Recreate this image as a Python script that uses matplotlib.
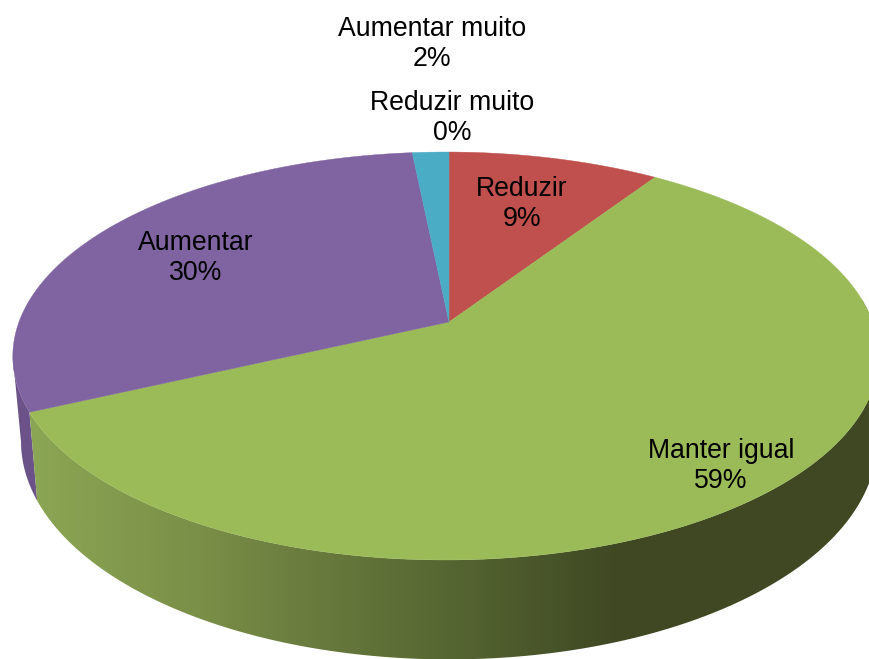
#plot.py
#3D looking pie chart, drawn in pixel coordinates of the picture
import numpy as np
import matplotlib
matplotlib.use('Agg')
import matplotlib.pyplot as plt
from matplotlib.patches import Polygon
from matplotlib.colors import LinearSegmentedColormap

plt.rcParams['font.family'] = ['Liberation Sans', 'DejaVu Sans']

#Data, clockwise from the top
categories = ['Reduzir muito', 'Reduzir', 'Manter igual', 'Aumentar', 'Aumentar muito']
values = [0.0, 9.3, 58.8, 30.3, 1.6]
top_colors = ['#4f81bd', '#c0504d', '#9bbb59', '#8064a2', '#4bacc6']

#Where each label goes (centre of the text block)
label_x = [452, 522, 721, 196, 432]
label_y = [118, 204, 466.5, 258.5, 44.5]

#Perspective of the disc: apex, half width, half depth, left/right squeeze
c = 1 / 6
top_disc = (449, 322, 426.8, 198.3, 0.0075)
bottom_disc = (449, 405, 422, 212, 0.0)
left_turn = 72.3   #percent position of the leftmost point of the disc

def disc_points(disc, t0, t1, n=200):
    #angles in percent of the pie, clockwise from the top
    cx, cy, a, b, g = disc
    t = np.radians(np.linspace(t0, t1, n) * 3.6)
    d = 1 + c * np.cos(t) + g * np.sin(t)
    return np.column_stack((cx + a * np.sin(t) / d, cy - b * np.cos(t) / d))

fig = plt.figure(figsize=(8.69, 6.59), dpi=100)
ax = fig.add_axes([0, 0, 1, 1])

edges = np.concatenate(([0], np.cumsum(values)))
start_manter = edges[2]
end_manter = edges[3]

#Side of the purple slice, only a sliver shows on the left
side = np.vstack((disc_points(top_disc, end_manter, left_turn),
                  disc_points(bottom_disc, left_turn, end_manter)))
ax.add_patch(Polygon(side, closed=True, fc='#6b5288', ec='none'))

#Side of the green slice with its gradient
side = np.vstack((disc_points(top_disc, start_manter + 5, end_manter),
                  disc_points(bottom_disc, end_manter, start_manter + 5)))
side_patch = Polygon(side, closed=True, fc='none', ec='none')
ax.add_patch(side_patch)
stops = [(0.0, '#8ba654'), (0.20, '#7a8f47'), (0.33, '#6a7c3e'), (0.50, '#566632'),
         (0.70, '#3f4823'), (1.0, '#404824')]
side_cmap = LinearSegmentedColormap.from_list('side', stops)
im = ax.imshow(np.linspace(0, 1, 512).reshape(1, -1), cmap=side_cmap, aspect='auto',
               extent=(30, 869, 659, 300), zorder=1)
im.set_clip_path(side_patch)

#Top of the pie
cx, cy = top_disc[:2]
for i in range(len(values)):
    if values[i] == 0:
        continue
    arc = disc_points(top_disc, edges[i], edges[i + 1])
    ax.add_patch(Polygon(np.vstack(([cx, cy], arc)), closed=True, fc=top_colors[i],
                         ec=top_colors[i], lw=0.3, zorder=2))

for i in range(len(values)):
    ax.text(label_x[i], label_y[i], '%s\n%.0f%%' % (categories[i], values[i]),
            ha='center', va='center', ma='center', fontsize=19.2, color='black',
            linespacing=1.2, zorder=3)

ax.set_xlim(0, 869)
ax.set_ylim(659, 0)
ax.axis('off')
fig.savefig('out.png', dpi=100)
